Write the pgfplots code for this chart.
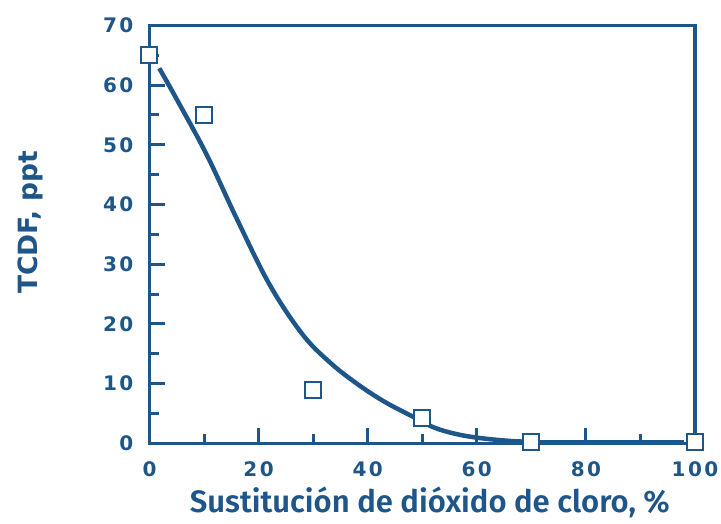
\documentclass[border=0pt]{standalone}
\usepackage{pgfplots}
\pgfplotsset{compat=1.18}
\usepackage{fontspec}
\setmainfont{Fira Sans}
\newfontfamily\tickfont[LetterSpace=12]{DejaVu Sans}
\newfontfamily\ylabfont{DejaVu Sans}
\newfontfamily\xlabfont{Fira Sans SemiBold}
\definecolor{ink}{HTML}{1F5689}
\begin{document}
\begin{tikzpicture}
\path[use as bounding box] (0,0) rectangle (721pt,523pt);
\begin{axis}[
  at={(149.5pt,79.7pt)}, anchor=south west,
  scale only axis, width=545.5pt, height=418pt,
  xmin=0, xmax=100, ymin=0, ymax=70,
  clip=false,
  axis line style={ink, line width=3.5pt},
  every tick/.style={ink, line width=3pt},
  tick align=inside,
  xtick pos=bottom, ytick pos=left,
  xtick={0,20,...,100}, minor xtick={10,30,...,90},
  ytick={0,10,...,70}, minor ytick={5,15,...,65},
  major tick length=15pt, minor tick length=9pt,
  /pgf/number format/assume math mode=true,
  tick label style={font=\tickfont\bfseries\fontsize{20}{20}\selectfont, text=ink, inner sep=0pt},
  xticklabel style={yshift=-18pt},
  yticklabel style={xshift=-16pt},
  xlabel={Sustitución de dióxido de cloro, \%},
  ylabel={TCDF, ppt},
  xlabel style={at={(axis description cs:0.514,-0.165)}, anchor=base, font=\xlabfont\fontsize{31}{31}\selectfont, text=ink, inner sep=0pt},
  ylabel style={at={(axis description cs:-0.219,0.529)}, anchor=center, font=\ylabfont\bfseries\fontsize{26.5}{26.5}\selectfont, text=ink, inner sep=0pt},
]
\addplot[ink, line width=4.5pt, smooth, tension=0.6] coordinates {
 (1.8,62.8) (5,57.6) (10.5,48.3) (16,37.6) (22,26.6) (28,18.3) (33,13.6) (38,10.0) (43,7.0) (48.2,4.5) (52,2.7) (56,1.6) (60.4,0.9) (66,0.4) (70,0.25)
};
\addplot[ink, line width=4.5pt] coordinates {(70,0.25) (98,0.25)};
\addplot[only marks, mark=square*, mark size=8pt, mark options={draw=ink, fill=white, line width=2pt}] coordinates {
 (0,65) (10,55) (30,9) (50,4.3) (70,0.2) (100,0.2)
};
\end{axis}
\end{tikzpicture}
\end{document}
